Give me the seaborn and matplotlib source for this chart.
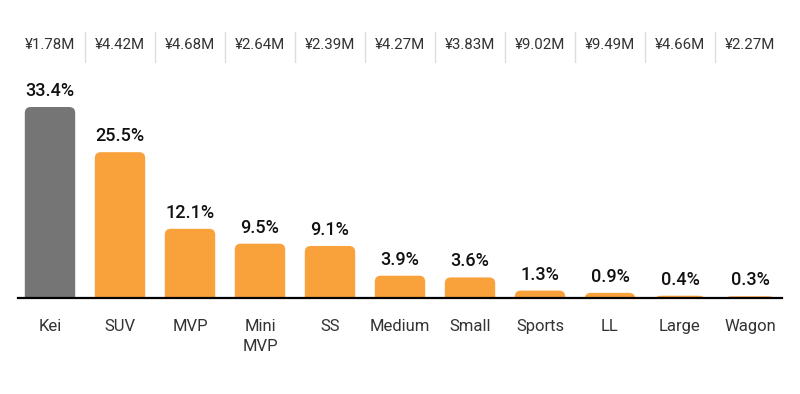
import matplotlib
matplotlib.use("Agg")
import matplotlib.pyplot as plt
import seaborn as sns
import pandas as pd
from matplotlib.patches import FancyBboxPatch
from matplotlib.transforms import blended_transform_factory

categories = ["Kei", "SUV", "MVP", "Mini\nMVP", "SS", "Medium", "Small", "Sports", "LL", "Large", "Wagon"]
shares = [33.4, 25.5, 12.1, 9.5, 9.1, 3.9, 3.6, 1.3, 0.9, 0.4, 0.3]
prices = ["¥1.78M", "¥4.42M", "¥4.68M", "¥2.64M", "¥2.39M", "¥4.27M", "¥3.83M", "¥9.02M", "¥9.49M", "¥4.66M", "¥2.27M"]
highlight = "Kei"

GRAY = "#757575"
ORANGE = "#F9A23C"

sns.set_theme(style="white")
plt.rcParams["font.family"] = ["Roboto", "DejaVu Sans"]

df = pd.DataFrame({"category": categories, "share": shares})
palette = {c: (GRAY if c == highlight else ORANGE) for c in categories}

W, H = 800, 394
fig = plt.figure(figsize=(8, 3.94), dpi=100)
base_px = 298   # baseline pixel (from top)
top_px = 20
left_px, right_px = 18, 782
ax = fig.add_axes([left_px / W, (H - base_px) / H, (right_px - left_px) / W, (base_px - top_px) / H])

sns.barplot(data=df, x="category", y="share", hue="category", palette=palette,
            width=0.72, ax=ax, legend=False, saturation=1)

px_per_x = 70.0
x0 = -(50 - left_px) / px_per_x
x1 = x0 + (right_px - left_px) / px_per_x
ax.set_xlim(x0, x1)
px_per_y = 191 / 33.4
ymax = (base_px - top_px) / px_per_y
ax.set_ylim(0, ymax)

# replace bars with rounded-top bars
r_px = 6
rx = r_px / px_per_x
ry = r_px / px_per_y
for p in list(ax.patches):
    x, w, h = p.get_x(), p.get_width(), p.get_height()
    fc = p.get_facecolor()
    p.remove()
    ext = 3.0
    fb = FancyBboxPatch((x, -ext), w, h + ext,
                        boxstyle=f"round,pad=0,rounding_size={rx}",
                        mutation_aspect=ry / rx, fc=fc, ec="none", zorder=2)
    ax.add_patch(fb)
    ax.annotate(f"{h:.1f}%", (x + w / 2, h), xytext=(0, 5), textcoords="offset points",
                ha="center", va="bottom", fontsize=13, fontweight="medium", color="#111111")

for s in ["top", "right", "left"]:
    ax.spines[s].set_visible(False)
ax.spines["bottom"].set_color("#000000")
ax.spines["bottom"].set_linewidth(1.6)
ax.set_yticks([])
ax.set_xlabel("")
ax.set_ylabel("")
ax.tick_params(axis="x", length=0, pad=15, labelsize=12, labelcolor="#333333")
for lab in ax.get_xticklabels():
    lab.set_verticalalignment("top")
    lab.set_linespacing(1.45)

# price row
trans = blended_transform_factory(ax.transData, fig.transFigure)
for i, pr in enumerate(prices):
    ax.text(i, 1 - 45 / H, pr, transform=trans, ha="center", va="center",
            fontsize=10.8, color="#333333", clip_on=False)
for i in range(len(prices) - 1):
    ax.plot([i + 0.5, i + 0.5], [1 - 32 / H, 1 - 62 / H], transform=trans,
            color="#dddddd", lw=1, clip_on=False)

fig.savefig("out.png", dpi=100)
